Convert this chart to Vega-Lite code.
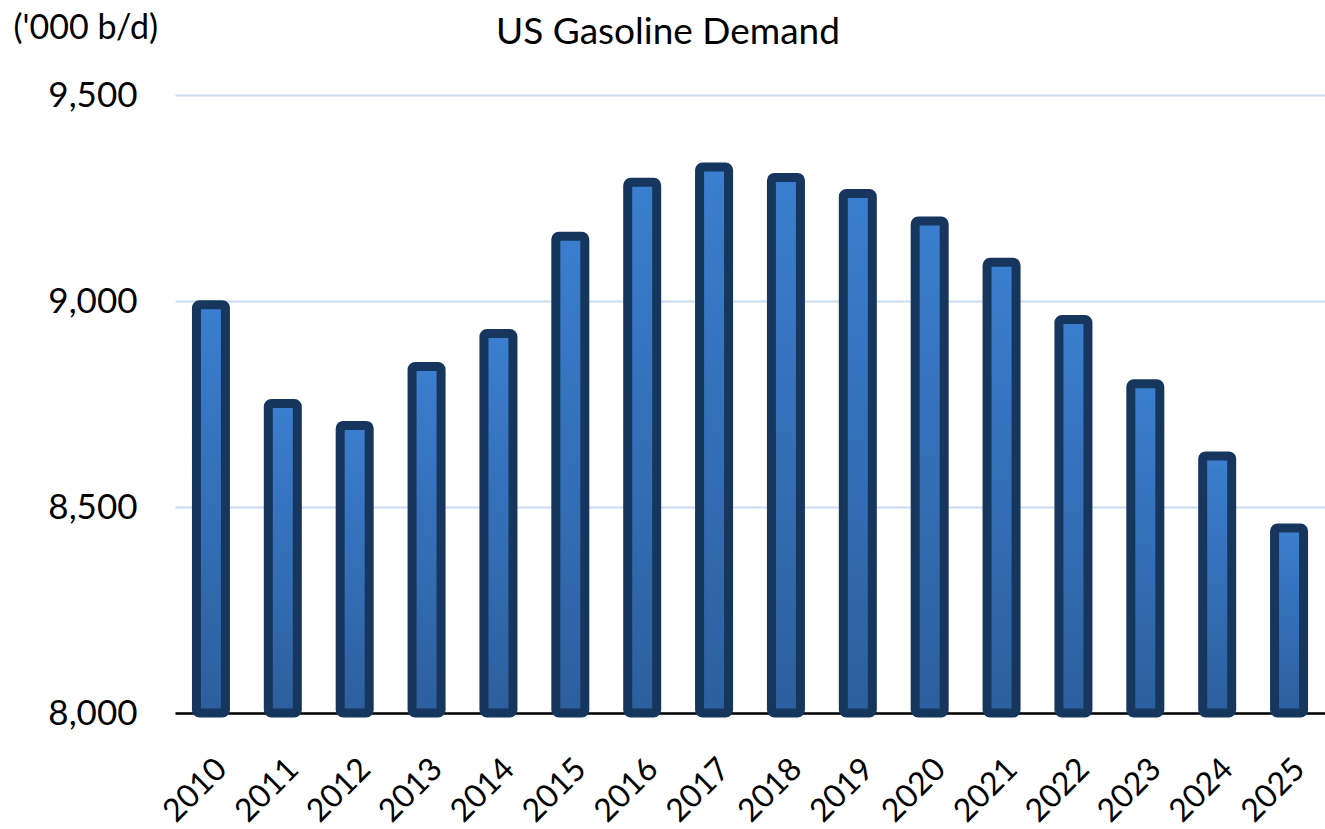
{
  "$schema": "https://vega.github.io/schema/vega-lite/v6.json",
  "autosize": "none",
  "width": 1150,
  "height": 618,
  "padding": {"left": 175, "top": 95, "right": 0, "bottom": 116},
  "background": "white",
  "config": {"view": {"stroke": null}, "font": "Lato"},
  "title": {"text": "US Gasoline Demand", "anchor": "middle", "dx": -82, "offset": -41, "fontSize": 37, "fontWeight": "normal", "font": "Lato", "color": "#000000"},
  "data": {"values": [
    {"year": "2010", "demand": 8991},
    {"year": "2011", "demand": 8751},
    {"year": "2012", "demand": 8698},
    {"year": "2013", "demand": 8841},
    {"year": "2014", "demand": 8921},
    {"year": "2015", "demand": 9157},
    {"year": "2016", "demand": 9288},
    {"year": "2017", "demand": 9325},
    {"year": "2018", "demand": 9300},
    {"year": "2019", "demand": 9261},
    {"year": "2020", "demand": 9194},
    {"year": "2021", "demand": 9094},
    {"year": "2022", "demand": 8955},
    {"year": "2023", "demand": 8799},
    {"year": "2024", "demand": 8624},
    {"year": "2025", "demand": 8449}
  ]},
  "mark": {
    "type": "bar",
    "size": 29,
    "cornerRadius": 3,
    "stroke": "#17365d",
    "strokeWidth": 9,
    "color": {"gradient": "linear", "x1": 0, "y1": 0, "x2": 0, "y2": 1, "stops": [{"offset": 0, "color": "#3b7ecf"}, {"offset": 1, "color": "#2c5f9e"}]}
  },
  "encoding": {
    "x": {"field": "year", "type": "ordinal", "scale": {"paddingInner": 0, "paddingOuter": 0},
      "axis": {"title": null, "labelAngle": -45, "labelFontSize": 32, "labelColor": "#000000", "labelPadding": 40, "ticks": false, "domainColor": "#000000", "domainWidth": 2.5, "labelFont": "Lato"}},
    "y": {"field": "demand", "type": "quantitative", "scale": {"domain": [8000, 9500], "zero": false, "nice": false},
      "axis": {"title": "('000 b/d)", "titleAngle": 0, "titleAlign": "left", "titleBaseline": "middle", "titleX": -162, "titleY": -67, "titleFontSize": 34, "titleFontWeight": "normal", "titleColor": "#000000", "titleFont": "Lato",
        "values": [8000, 8500, 9000, 9500], "format": ",.0f", "labelFontSize": 35, "labelColor": "#000000", "labelPadding": 38, "labelFont": "Lato", "ticks": false, "domain": false, "gridColor": "#c9dcf0", "gridWidth": 2}},
    "y2": {"datum": 8000}
  }
}
